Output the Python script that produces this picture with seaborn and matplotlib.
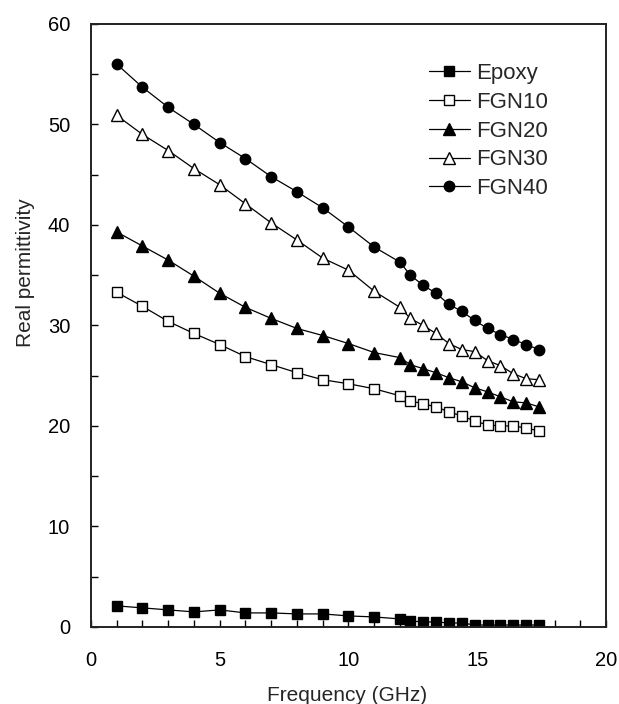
import matplotlib
matplotlib.use("Agg")
import matplotlib.pyplot as plt
import seaborn as sns
import pandas as pd
from matplotlib.ticker import MultipleLocator

freq = [1, 2, 3, 4, 5, 6, 7, 8, 9, 10, 11, 12,
        12.4, 12.9, 13.4, 13.9, 14.4, 14.9, 15.4, 15.9, 16.4, 16.9, 17.4]

epoxy = [2.1, 1.9, 1.7, 1.5, 1.7, 1.4, 1.4, 1.3, 1.3, 1.1, 1.0, 0.8,
         0.6, 0.5, 0.5, 0.4, 0.4, 0.2, 0.2, 0.2, 0.2, 0.2, 0.2]
fgn10 = [33.3, 31.9, 30.4, 29.2, 28.1, 26.9, 26.1, 25.3, 24.6, 24.2, 23.7, 23.0,
         22.5, 22.2, 21.9, 21.4, 21.0, 20.5, 20.1, 20.0, 20.0, 19.8, 19.5]
fgn20 = [39.3, 37.9, 36.5, 34.9, 33.2, 31.8, 30.7, 29.7, 29.0, 28.2, 27.3, 26.8,
         26.1, 25.7, 25.3, 24.8, 24.4, 23.8, 23.4, 22.9, 22.4, 22.3, 21.9]
fgn30 = [50.9, 49.0, 47.4, 45.6, 44.0, 42.1, 40.2, 38.5, 36.7, 35.5, 33.4, 31.8,
         30.7, 30.0, 29.2, 28.2, 27.6, 27.4, 26.5, 26.0, 25.2, 24.7, 24.6]
fgn40 = [56.0, 53.7, 51.7, 50.0, 48.2, 46.6, 44.8, 43.3, 41.7, 39.8, 37.8, 36.3,
         35.0, 34.0, 33.2, 32.1, 31.4, 30.5, 29.7, 29.1, 28.6, 28.1, 27.6]

names = ["Epoxy", "FGN10", "FGN20", "FGN30", "FGN40"]
series = [epoxy, fgn10, fgn20, fgn30, fgn40]
x_ticks = [0, 5, 10, 15, 20]
y_ticks = [0, 10, 20, 30, 40, 50, 60]

styles = {
    "Epoxy": dict(marker="s", mfc="black", ms=7.5),
    "FGN10": dict(marker="s", mfc="white", ms=7.5),
    "FGN20": dict(marker="^", mfc="black", ms=8.5),
    "FGN30": dict(marker="^", mfc="white", ms=8.5),
    "FGN40": dict(marker="o", mfc="black", ms=7.5),
}

sns.set_style("ticks")
plt.rcParams["font.family"] = ["Liberation Sans", "DejaVu Sans"]

fig = plt.figure(figsize=(6.19, 7.04), dpi=100)
ax = fig.add_axes([0.147, 0.1094, 0.832, 0.8566])

for name, vals in zip(names, series):
    df = pd.DataFrame({"Frequency": freq, "value": vals})
    st = styles[name]
    sns.lineplot(data=df, x="Frequency", y="value", ax=ax, color="black",
                 linewidth=0.9, marker=st["marker"], markersize=st["ms"],
                 markerfacecolor=st["mfc"], markeredgecolor="black",
                 markeredgewidth=1.0, label=name)

ax.set_xlim(0, 20)
ax.set_ylim(0, 60)
ax.set_xticks(x_ticks)
ax.set_yticks(y_ticks)
ax.xaxis.set_minor_locator(MultipleLocator(1))
ax.yaxis.set_minor_locator(MultipleLocator(5))
ax.tick_params(which="both", direction="in", length=5, width=1.0,
               labelsize=14.5, top=False, right=False, colors="black")
ax.tick_params(axis="x", which="major", pad=17)
ax.tick_params(axis="y", which="major", pad=15)
for sp in ax.spines.values():
    sp.set_visible(True)
    sp.set_linewidth(1.4)
    sp.set_color("#222222")

ax.set_xlabel("Frequency (GHz)", fontsize=15)
ax.set_ylabel("Real permittivity", fontsize=15)
ax.xaxis.set_label_coords(0.498, -0.098)
ax.yaxis.set_label_coords(-0.109, 0.587)

leg = ax.legend(loc="upper right", bbox_to_anchor=(0.905, 0.95), frameon=False,
                fontsize=16, handlelength=1.85, handletextpad=0.3,
                labelspacing=0.35, borderaxespad=0)

fig.savefig("out.png", dpi=100)
